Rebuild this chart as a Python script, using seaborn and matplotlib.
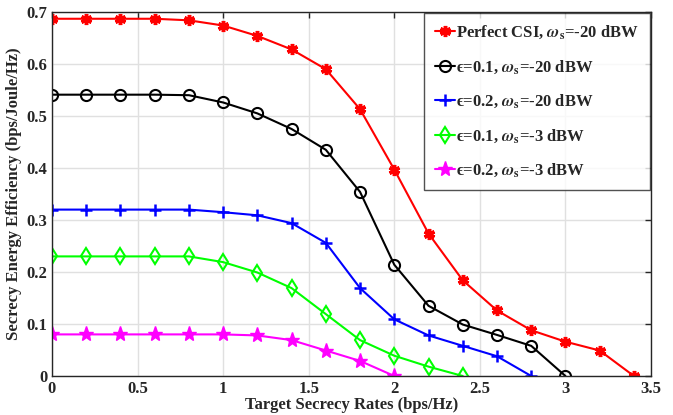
import numpy as np
import pandas as pd
import seaborn as sns
import matplotlib.pyplot as plt

# Data
Rates_Red = [0, 0.2, 0.4, 0.6, 0.8, 1.0, 1.2, 1.4, 1.6, 1.8, 2.0, 2.2, 2.4, 2.6, 2.8, 3.0, 3.2, 3.4]
SEE_Red = [0.687, 0.687, 0.687, 0.687, 0.684, 0.674, 0.654, 0.628, 0.590, 0.513, 0.397, 0.274,
           0.184, 0.126, 0.088, 0.066, 0.049, 0.0]

Rates_Black = [0, 0.2, 0.4, 0.6, 0.8, 1.0, 1.2, 1.4, 1.6, 1.8, 2.0, 2.2, 2.4, 2.6, 2.8, 3.0]
SEE_Black = [0.541, 0.541, 0.541, 0.541, 0.540, 0.526, 0.505, 0.475, 0.435, 0.354, 0.214, 0.135,
             0.099, 0.079, 0.058, 0.0]

Rates_Blue = [0, 0.2, 0.4, 0.6, 0.8, 1.0, 1.2, 1.4, 1.6, 1.8, 2.0, 2.2, 2.4, 2.6, 2.8]
SEE_Blue = [0.320, 0.320, 0.320, 0.320, 0.320, 0.315, 0.309, 0.294, 0.256, 0.169, 0.109, 0.078,
            0.058, 0.038, 0.0]

Rates_Green = [0, 0.2, 0.4, 0.6, 0.8, 1.0, 1.2, 1.4, 1.6, 1.8, 2.0, 2.2, 2.4]
SEE_Green = [0.230, 0.230, 0.230, 0.230, 0.230, 0.219, 0.199, 0.169, 0.119, 0.069, 0.039, 0.018, 0.0]

Rates_Magenta = [0, 0.2, 0.4, 0.6, 0.8, 1.0, 1.2, 1.4, 1.6, 1.8, 2.0]
SEE_Magenta = [0.080, 0.080, 0.080, 0.080, 0.080, 0.080, 0.078, 0.069, 0.049, 0.029, 0.0]

Labels = [r"Perfect CSI, $\omega_{\mathbf{s}}$=-20 dBW",
          r"ϵ=0.1, $\omega_{\mathbf{s}}$=-20 dBW",
          r"ϵ=0.2, $\omega_{\mathbf{s}}$=-20 dBW",
          r"ϵ=0.1, $\omega_{\mathbf{s}}$=-3 dBW",
          r"ϵ=0.2, $\omega_{\mathbf{s}}$=-3 dBW"]

sns.set_style("whitegrid")
plt.rcParams['font.family'] = ['Liberation Serif', 'DejaVu Serif']
plt.rcParams['font.weight'] = 'bold'
plt.rcParams['mathtext.fontset'] = 'stix'

fig = plt.figure(figsize=(6.73, 4.15), dpi=100)
ax = fig.add_axes([52 / 673, 39 / 415, 599 / 673, 364 / 415])

Series = [
    (Rates_Red, SEE_Red, "#ff0000", dict(marker=(6, 2, 0), markersize=8, markeredgewidth=2.5)),
    (Rates_Black, SEE_Black, "#000000", dict(marker='o', markersize=8, markerfacecolor='none', markeredgewidth=1.5)),
    (Rates_Blue, SEE_Blue, "#0000ff", dict(marker='+', markersize=9, markeredgewidth=1.8)),
    (Rates_Green, SEE_Green, "#00ff00", dict(marker='d', markersize=8, markerfacecolor='none', markeredgewidth=1.5)),
    (Rates_Magenta, SEE_Magenta, "#ff00ff", dict(marker='*', markersize=11, markeredgewidth=1)),
]

for (x, y, c, mk), lab in zip(Series, Labels):
    df = pd.DataFrame({'rate': x, 'see': y})
    sns.lineplot(data=df, x='rate', y='see', ax=ax, color=c, linewidth=1.5,
                 markeredgecolor=c, label=lab, **mk)

ax.set_xlim(0, 3.5)
ax.set_ylim(0, 0.7)
ax.set_xticks(np.arange(0, 3.51, 0.5))
ax.set_xticklabels(['0', '0.5', '1', '1.5', '2', '2.5', '3', '3.5'])
ax.set_yticks(np.arange(0, 0.71, 0.1))
ax.set_yticklabels(['0', '0.1', '0.2', '0.3', '0.4', '0.5', '0.6', '0.7'])
ax.grid(True, color='#e0e0e0', linewidth=1)
for s in ax.spines.values():
    s.set_color('#262626')
    s.set_linewidth(1.0)
ax.tick_params(direction='in', top=True, right=True, length=4, width=1, colors='#262626',
               labelsize=12, labelcolor='#262626')
ax.set_xlabel("Target Secrecy Rates (bps/Hz)", fontsize=12, fontweight='bold', labelpad=0)
ax.set_ylabel("Secrecy Energy Efficiency (bps/Joule/Hz)", fontsize=12, fontweight='bold', labelpad=3)

leg = ax.legend(loc='upper right', frameon=True, fancybox=False, edgecolor='#262626',
                handlelength=1.2, handletextpad=0.1, labelspacing=1.0, borderpad=0.65,
                borderaxespad=0.05, prop={'weight': 'bold', 'size': 12})
leg.get_frame().set_linewidth(1.0)

fig.savefig("out.png", dpi=100)
